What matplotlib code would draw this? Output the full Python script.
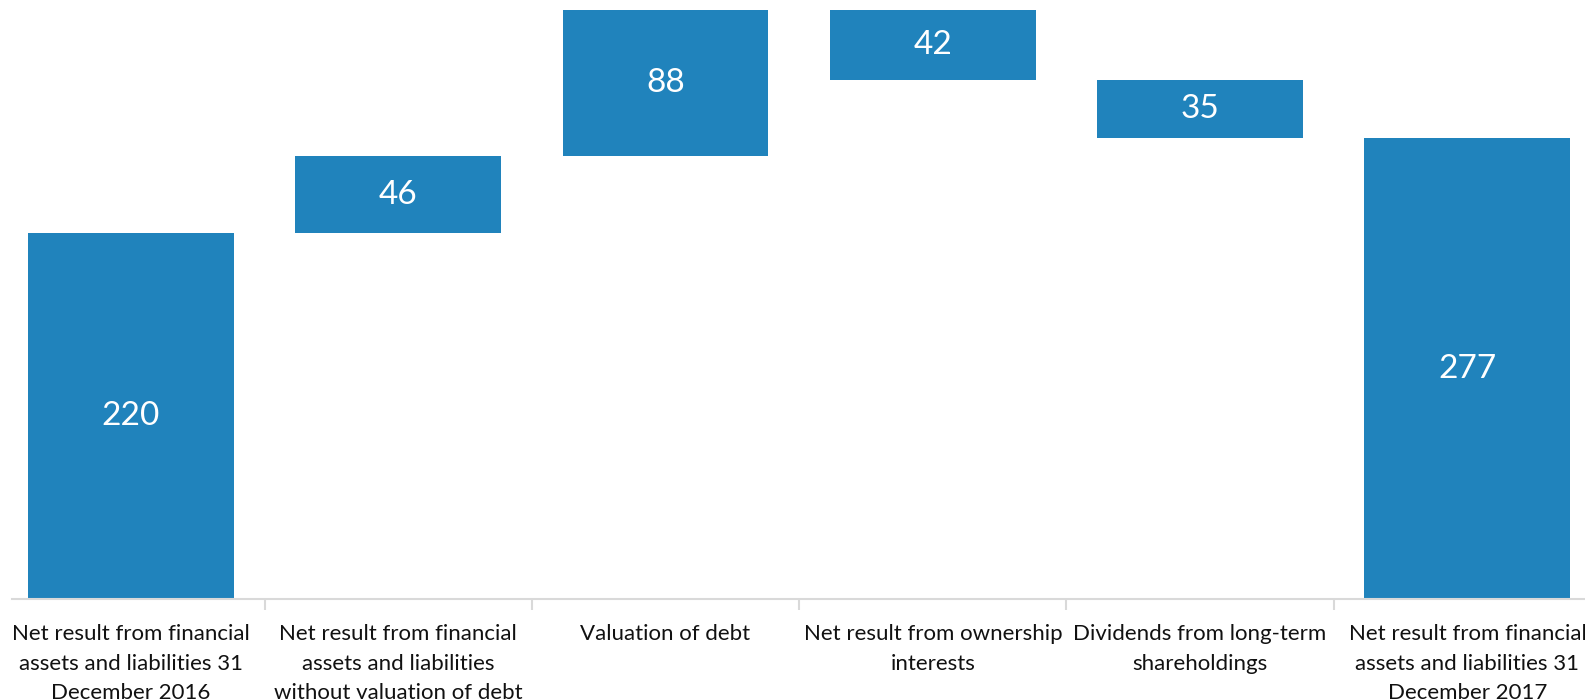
import numpy as np
import matplotlib.pyplot as plt

plt.rcParams['font.family'] = ['Lato', 'DejaVu Sans']

categories = [
    "Net result from financial\nassets and liabilities 31\nDecember 2016",
    "Net result from financial\nassets and liabilities\nwithout valuation of debt",
    "Valuation of debt",
    "Net result from ownership\ninterests",
    "Dividends from long-term\nshareholdings",
    "Net result from financial\nassets and liabilities 31\nDecember 2017",
]
values = [220, 46, 88, -42, -35, 277]
is_total = [True, False, False, False, False, True]

BAR_COLOR = '#2083bc'
AXIS_COLOR = '#d9d9d9'

# waterfall: floating bars start where the running total ends
bottoms, heights = [], []
running = 0
for v, tot in zip(values, is_total):
    if tot:
        bottoms.append(0)
        heights.append(v)
        running = v
    else:
        bottoms.append(running if v > 0 else running + v)
        heights.append(abs(v))
        running += v

fig = plt.figure(figsize=(15.85, 6.99), dpi=100)
ax = fig.add_axes([12 / 1585, 100 / 699, 1573 / 1585, 599 / 699])

x = np.arange(len(values))
ax.bar(x, heights, bottom=bottoms, width=0.77, color=BAR_COLOR, zorder=2)

for xi, b, h in zip(x, bottoms, heights):
    ax.text(xi, b + h / 2, f"{h}", ha='center', va='center',
            color='white', fontsize=24)

ax.set_xlim(-0.445, 5.44)
ax.set_ylim(0, 360)

ax.set_xticks(x)
ax.set_xticklabels(categories, fontsize=16, color='#111111', linespacing=1.6)
ax.tick_params(axis='x', which='major', length=0, pad=18)
ax.set_xticks(x[:-1] + 0.5, minor=True)
ax.tick_params(axis='x', which='minor', length=8, width=1.5, color=AXIS_COLOR)
ax.set_yticks([])

for s in ['top', 'right', 'left']:
    ax.spines[s].set_visible(False)
ax.spines['bottom'].set_color(AXIS_COLOR)
ax.spines['bottom'].set_linewidth(1.5)

fig.savefig('out.png', dpi=100)
